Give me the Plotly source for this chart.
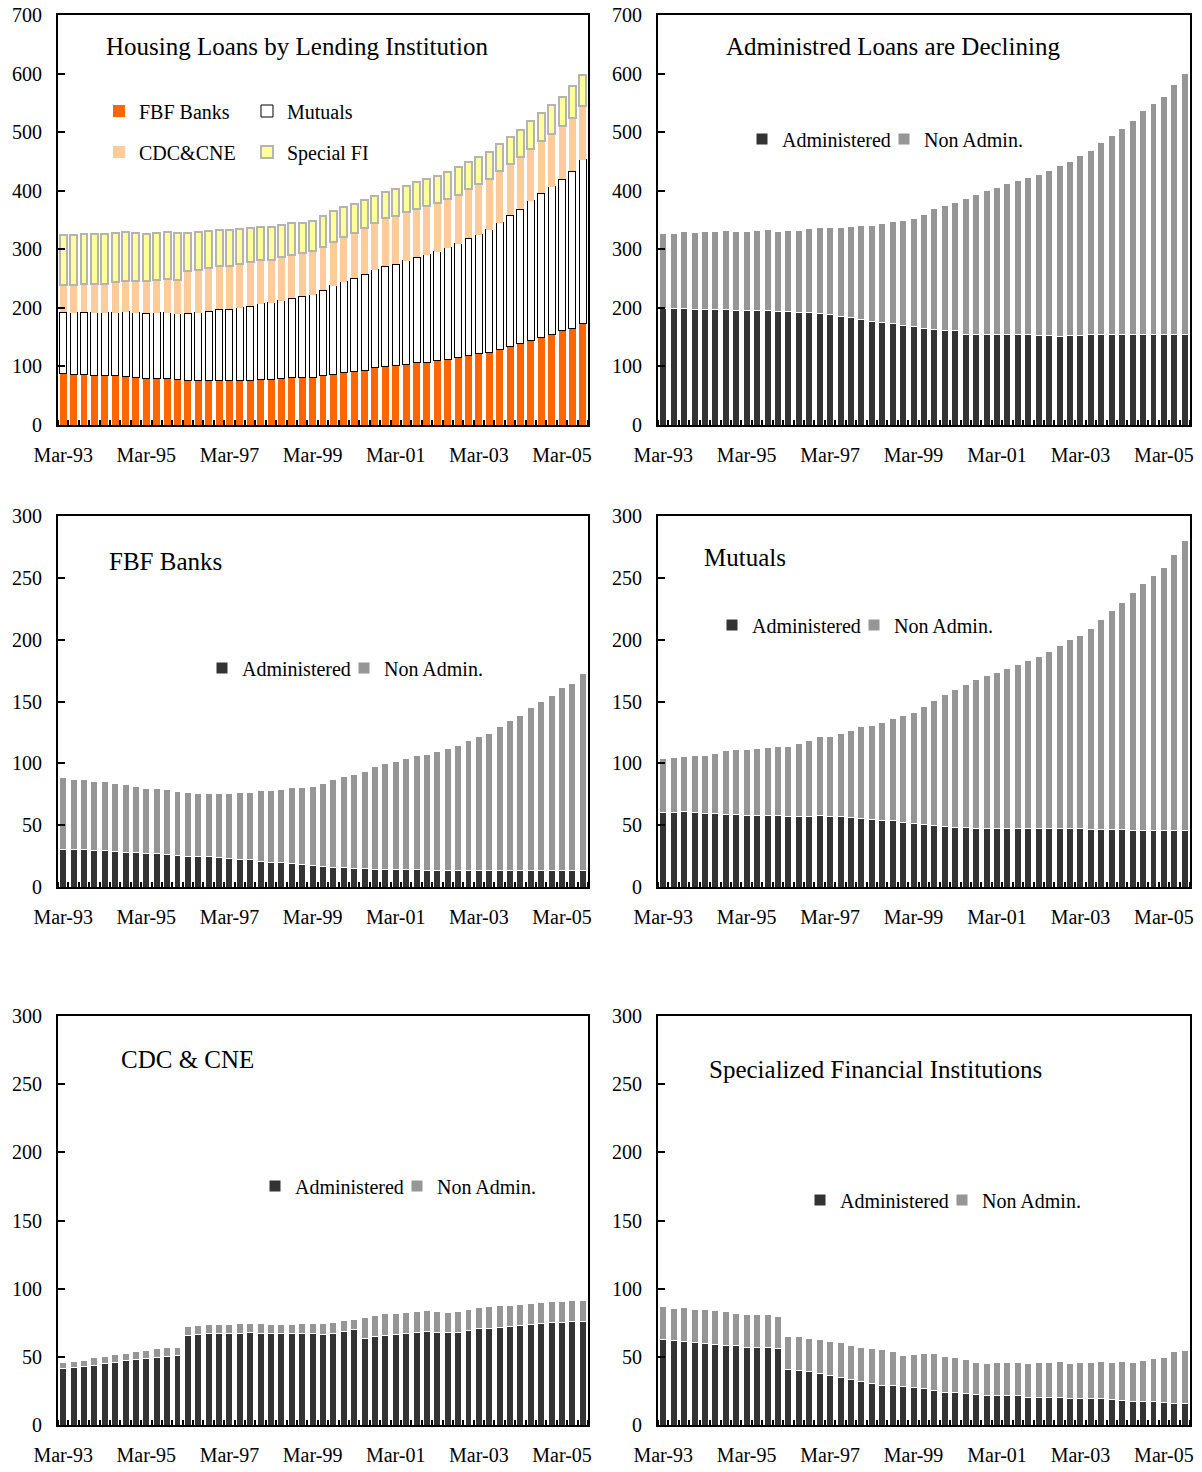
import plotly.graph_objects as go

# quarterly observations, Mar-93 .. Sep-05
quarters = [f"{m}-{y % 100:02d}" for y in range(1993, 2006) for m in ("Mar", "Jun", "Sep", "Dec")][:51]
tick_pos = [0, 8, 16, 24, 32, 40, 48]
tick_text = ["Mar-93", "Mar-95", "Mar-97", "Mar-99", "Mar-01", "Mar-03", "Mar-05"]

# all institutions (panel 2)
all_total = [327.7, 327.7, 331, 329.4, 330.5, 331, 332.2, 330.5, 330.5, 332.2, 333.3, 330.5,
             332.2, 332.8, 335, 336.7, 336.7, 337.9, 339, 341.3, 341.3, 344.7, 348.1, 348.7,
             352, 359.6, 369.7, 374.8, 380.5, 386.7, 394.1, 399.8, 404.9, 411.7, 418, 422.5,
             427.6, 434.4, 442.9, 449.7, 460, 468.5, 482.7, 494.6, 506, 520.7, 536.6, 549.1,
             561.6, 580.9, 600.8]
all_admin = [198.5, 198.5, 198.7, 198, 197.5, 197, 197, 196, 195.5, 196, 195.5, 194, 193,
             192.5, 192, 191, 188, 186, 183, 180, 176.5, 174.5, 173, 170, 167.5, 164.5, 163,
             162, 161.5, 154.5, 154.5, 154.5, 154.5, 154.5, 154.5, 154, 153.5, 152.5, 151.5,
             153, 153, 154, 154, 154.5, 154.5, 154.5, 154, 154.5, 154.5, 154.5, 155]

fbf_total = [88.5, 87, 87, 85, 85, 84, 83, 81, 79.5, 79.5, 79, 77, 76.5, 76, 76, 76, 76, 76.5,
             76.5, 78, 78, 79, 80.5, 80.5, 81, 84, 87, 89, 91, 93, 97.5, 99.5, 101.5, 104, 106,
             107, 109.5, 112, 114.5, 118.5, 122, 124.5, 129.5, 134.5, 138.5, 145, 150, 155, 161,
             164.5, 173]
fbf_admin = [30, 30.5, 30, 29.5, 29.5, 28.5, 28, 27.5, 27, 27, 26.5, 25.5, 25, 24.5, 24.5, 24,
             23, 22.5, 22, 21, 20, 19.5, 19, 18, 17.5, 16.5, 16, 15.5, 15, 15, 14.5, 14.5, 14,
             14, 14, 13.5, 13.5, 13, 13, 13, 13, 13.5, 13, 13, 13, 13, 13, 13, 13, 13, 13]

mut_total = [104, 104.7, 105.7, 106.3, 106.3, 108, 110, 111, 111, 112, 113, 113.3, 114, 115.7,
             118.4, 121.3, 122, 124, 126.5, 129.4, 130.5, 133, 136, 139, 141.5, 146, 151, 156,
             159.5, 164, 167.6, 171.4, 173.3, 176.8, 180.3, 183.5, 186.4, 190.7, 195.3, 200, 203,
             208.8, 216, 223.3, 229.8, 237.8, 245.6, 251.8, 258.5, 269, 279.8]
mut_admin = [60, 60.5, 61, 60, 59.5, 59.5, 59, 58.5, 58, 58, 58, 57.5, 57, 57, 57, 57.5, 57, 57,
             56, 55.5, 54.5, 54, 53.5, 52.5, 51.5, 50.5, 49.5, 49, 48.5, 48, 47.5, 47.5, 47.5,
             47.5, 47.5, 47, 47, 47, 47, 47, 47, 46.5, 46.5, 46.5, 46.5, 46, 45.5, 45.5, 45.5,
             45.5, 45.5]

cdc_total = [46, 46.5, 47.5, 49.2, 49.9, 51.4, 52.6, 53.6, 54.8, 55.8, 56.5, 57.2, 72.6, 72.8,
             73.6, 73.6, 73.8, 74.3, 74.6, 74.1, 73.8, 74, 74, 74.3, 74.3, 74.6, 75.3, 76.3,
             77.5, 78.7, 80, 81.7, 82, 82.4, 83.1, 84.1, 83.4, 82.4, 83.6, 84.4, 86.3, 86.6,
             87.5, 88, 88.5, 89.2, 90, 90.4, 90.4, 91, 91.2]
cdc_admin = [41.6, 42, 43, 44, 45, 46, 47.2, 47.7, 48.7, 49.4, 50.1, 50.8, 65.8, 66.5, 67, 67,
             67, 67.3, 67.7, 67, 67, 67, 67, 67.3, 66.8, 66.5, 67.3, 68.5, 70.2, 63.6, 64.8,
             65.8, 66.3, 67, 67.7, 68.5, 68, 67.5, 68.2, 69.2, 70.7, 71, 71.6, 72.1, 72.8, 73.5,
             74.5, 75, 75.2, 75.8, 75.8]

sfi_total = [86.6, 85.8, 86.1, 84.9, 84.6, 83.9, 83.1, 81.7, 81.2, 81.2, 80.7, 79.5, 65, 64.6,
             63.3, 62.6, 61.6, 60.2, 58.5, 57.2, 55.8, 55.3, 53.8, 51.1, 51.8, 52.1, 52.3, 50.1,
             49.6, 48.4, 46.2, 45, 45.5, 45.5, 45.5, 45, 46, 46.2, 46.7, 45.3, 46, 45.8, 46.7,
             45.8, 46.7, 46.2, 47.5, 48.7, 49.6, 53.6, 54.3]
sfi_admin = [62.4, 61.9, 61.1, 60.4, 59.9, 59.2, 58.5, 58, 56.7, 57.2, 57, 56, 40.8, 40.1, 39.1,
             37.7, 36.4, 35, 33.3, 31.8, 30.3, 29.3, 29.3, 28.4, 27.4, 26.7, 25.4, 24.2, 23.5,
             23, 22.7, 22, 21.8, 21.5, 21.3, 20.5, 20.5, 20.3, 20, 19.6, 19.6, 19.1, 19.1, 18.6,
             18.1, 17.6, 17.1, 16.9, 16.6, 16.1, 16.1]

x = list(range(len(quarters)))
W, H = 1202, 1472
FONT = "Liberation Serif"
ADMIN, NONADMIN = "#333333", "#969696"


def diff(a, b):
    return [round(p - q, 1) for p, q in zip(a, b)]


fig = go.Figure()

# panel 1: stacked by institution
inst = [("FBF Banks", fbf_total, "#FF6600", "#FF6600", 0, "legend"),
        ("Mutuals", mut_total, "white", "black", 1, "legend"),
        ("CDC&CNE", cdc_total, "#FFCC99", "#FFCC99", 0, "legend2"),
        ("Special FI", sfi_total, "#FFFF99", "#B4B4B4", 2, "legend2")]
for name, vals, col, lcol, lw, leg in inst:
    fig.add_trace(go.Bar(x=x, y=vals, name=name, customdata=quarters, legend=leg,
                         marker=dict(color=col, line=dict(color=lcol, width=lw)),
                         xaxis="x", yaxis="y"))

# panels 2-6: administered vs non administered
panels = [(all_admin, all_total, 2, "legend3"),
          (fbf_admin, fbf_total, 3, "legend4"),
          (mut_admin, mut_total, 4, "legend5"),
          (cdc_admin, cdc_total, 5, "legend6"),
          (sfi_admin, sfi_total, 6, "legend7")]
for adm, tot, k, leg in panels:
    fig.add_trace(go.Bar(x=x, y=adm, name="Administered", legend=leg, customdata=quarters,
                         marker=dict(color=ADMIN, line=dict(color="white", width=1)),
                         xaxis=f"x{k}", yaxis=f"y{k}"))
    fig.add_trace(go.Bar(x=x, y=diff(tot, adm), name="Non Admin.", legend=leg,
                         customdata=quarters,
                         marker=dict(color=NONADMIN, line=dict(color="white", width=1)),
                         xaxis=f"x{k}", yaxis=f"y{k}"))

cols = [(58, 588), (658, 1190)]
rows = [(15, 425), (516, 887), (1016, 1425)]
tickfont = dict(family=FONT, size=20, color="black")
layout = {}
for i in range(6):
    c0, c1 = cols[i % 2]
    r0, r1 = rows[i // 2]
    sfx = "" if i == 0 else str(i + 1)
    layout[f"xaxis{sfx}"] = dict(
        domain=[c0 / W, c1 / W], anchor=f"y{sfx}", range=[-0.5, 50.5],
        tickvals=tick_pos, ticktext=tick_text, ticks="", tickfont=tickfont,
        ticklabelstandoff=11, automargin=False,
        minor=dict(ticks="inside", tick0=-0.5, dtick=1, ticklen=5, tickwidth=2,
                   tickcolor="black", showgrid=False),
        showline=True, linecolor="black", linewidth=2, mirror=True,
        showgrid=False, zeroline=False, fixedrange=True)
    layout[f"yaxis{sfx}"] = dict(
        domain=[1 - r1 / H, 1 - r0 / H], anchor=f"x{sfx}",
        range=[0, 700] if i < 2 else [0, 300], dtick=100 if i < 2 else 50,
        ticks="inside", ticklen=7, tickwidth=2, tickcolor="black", tickfont=tickfont,
        ticklabelstandoff=10, automargin=False,
        showline=True, linecolor="black", linewidth=2, mirror=True,
        showgrid=False, zeroline=False, fixedrange=True)

legfont = dict(family=FONT, size=20, color="black")
leg_pos = {"legend": (99, 111, 103), "legend2": (99, 152, 103),
           "legend3": (742, 139, 97), "legend4": (202, 668, 97),
           "legend5": (712, 625, 97), "legend6": (255, 1186, 97),
           "legend7": (800, 1200, 97)}
for key, (lx, ly, ew) in leg_pos.items():
    layout[key] = dict(x=lx / W, y=1 - ly / H, xanchor="left", yanchor="middle",
                       orientation="h", entrywidth=ew, entrywidthmode="pixels",
                       traceorder="normal", font=legfont, bgcolor="rgba(0,0,0,0)")

titles = [("Housing Loans by Lending Institution", 104, 47),
          ("Administred Loans are Declining", 724, 47),
          ("FBF Banks", 107, 561),
          ("Mutuals", 702, 557),
          ("CDC & CNE", 119, 1059),
          ("Specialized Financial Institutions", 707, 1069)]
annotations = [dict(text=t, x=tx / W, y=1 - ty / H, xref="paper", yref="paper",
                    xanchor="left", yanchor="middle", showarrow=False,
                    font=dict(family=FONT, size=25, color="black"))
               for t, tx, ty in titles]

fig.update_layout(
    width=W, height=H,
    margin=dict(l=0, r=0, t=0, b=0, pad=0, autoexpand=False),
    barmode="stack", bargap=0.33,
    paper_bgcolor="white", plot_bgcolor="white",
    showlegend=True,
    annotations=annotations,
    **layout
)

fig.write_html("out.html", config={"displayModeBar": False},
               post_script="document.body.style.margin='0';")
